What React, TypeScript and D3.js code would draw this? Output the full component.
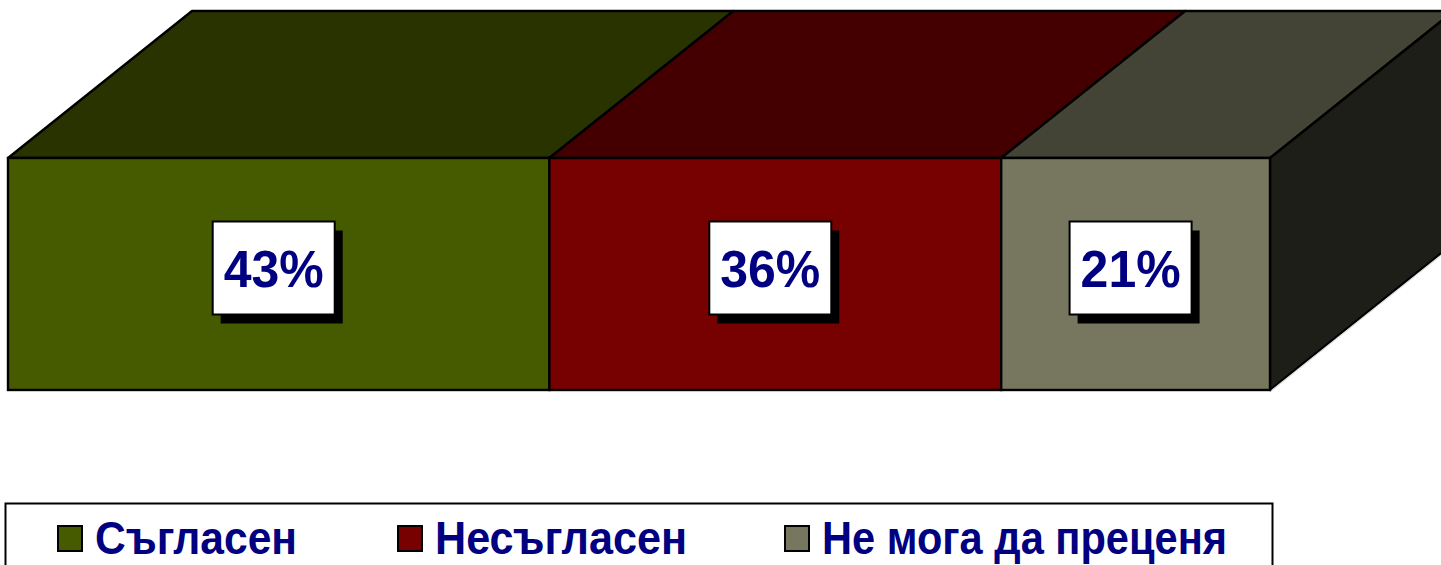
import React from "react";
import * as d3 from "d3";

const categories = ["Съгласен", "Несъгласен", "Не мога да преценя"];
// shares; labels are the rounded ones shown
const values = [42.9, 35.8, 21.3];
const labels = ["43%", "36%", "21%"];

const frontColors = ["#465A00", "#770000", "#77765E"];
const topColors = ["#283300", "#440000", "#444436"];
const sideColor = "#1E1E18";

const W = 1441;
const H = 565;

const App: React.FC = () => {
  const x = d3.scaleLinear().domain([0, 100]).range([8, 1270]);
  const y0 = 158;
  const y1 = 390;
  const dx = 184;
  const dy = -147;

  const stacked = d3
    .stack<any>()
    .keys(categories)([Object.fromEntries(categories.map((c, i) => [c, values[i]]))]);
  const segs = stacked.map((s, i) => ({ key: s.key, a: s[0][0], b: s[0][1], i }));

  const legendX = [58, 398, 785];
  const legendLen = [202, 252, 405];

  return (
    <svg width={W} height={H} style={{ position: "absolute", left: 0, top: 0 }}>
      <rect width={W} height={H} fill="#fff" />
      {/* top faces */}
      {segs.map((s) => {
        const xa = x(s.a);
        const xb = x(s.b);
        const p = `M${xa},${y0}L${xa + dx},${y0 + dy}L${xb + dx},${y0 + dy}L${xb},${y0}Z`;
        return (
          <path key={"t" + s.key} d={p} fill={topColors[s.i]} stroke="#000" strokeWidth={2.4} strokeLinejoin="round" />
        );
      })}
      {/* side face */}
      {(() => {
        const xr = x(100);
        const p = `M${xr},${y0}L${xr + dx},${y0 + dy}L${xr + dx},${y1 + dy}L${xr},${y1}Z`;
        return (
          <g>
            <path d={p} fill={sideColor} stroke="#000" strokeWidth={2.4} strokeLinejoin="round" />
            <line x1={xr + 1} y1={y1 + 1} x2={xr + dx + 1} y2={y1 + dy + 1} stroke="#ddd" strokeWidth={1.2} />
          </g>
        );
      })()}
      {/* front faces */}
      {segs.map((s) => (
        <rect
          key={"f" + s.key}
          x={x(s.a)}
          y={y0}
          width={x(s.b) - x(s.a)}
          height={y1 - y0}
          fill={frontColors[s.i]}
          stroke="#000"
          strokeWidth={2.4}
        />
      ))}
      {/* labels */}
      {segs.map((s) => {
        const cx = (x(s.a) + x(s.b)) / 2 - 5;
        const cy = 268;
        const bw = 122;
        const bh = 93;
        return (
          <g key={"l" + s.key}>
            <rect x={cx - bw / 2 + 8} y={cy - bh / 2 + 9} width={bw} height={bh} fill="#000" />
            <rect x={cx - bw / 2} y={cy - bh / 2} width={bw} height={bh} fill="#fff" stroke="#000" strokeWidth={2} />
            <text
              x={cx}
              y={cy + 19}
              textAnchor="middle"
              fontFamily="Liberation Sans, Arial, sans-serif"
              fontWeight="bold"
              fontSize={52}
              textLength={100}
              lengthAdjust="spacingAndGlyphs"
              fill="#000080"
            >
              {labels[s.i]}
            </text>
          </g>
        );
      })}
      {/* legend */}
      <rect x={5.5} y={503.5} width={1267} height={80} fill="#fff" stroke="#000" strokeWidth={2} />
      {categories.map((c, i) => (
        <g key={"lg" + c}>
          <rect x={legendX[i]} y={526} width={24} height={25} fill={frontColors[i]} stroke="#000" strokeWidth={2} />
          <text
            x={legendX[i] + 37}
            y={554}
            fontFamily="Liberation Sans, Arial, sans-serif"
            fontWeight="bold"
            fontSize={46}
            textLength={legendLen[i]}
            lengthAdjust="spacingAndGlyphs"
            fill="#000080"
          >
            {c}
          </text>
        </g>
      ))}
    </svg>
  );
};

export default App;
